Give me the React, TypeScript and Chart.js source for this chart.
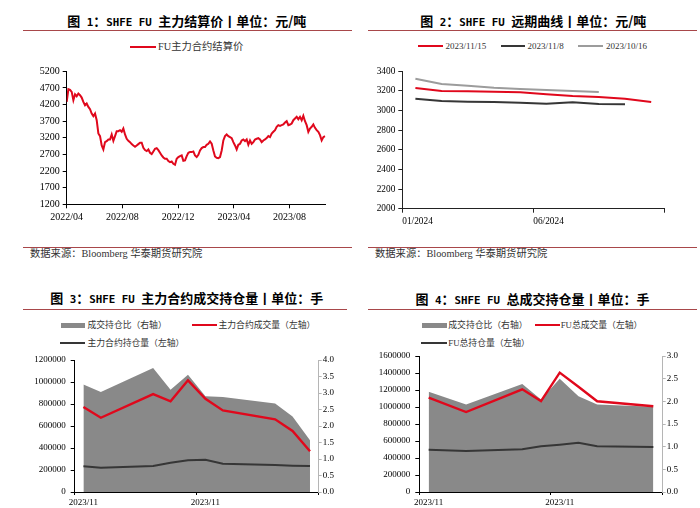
import React, { useEffect, useRef } from 'react';
import { Chart, registerables } from 'chart.js';
Chart.register(...registerables);

// ---------- Panel 1: FU main contract settlement price ----------
const settleSeriesName = 'FU主力合约结算价';
const settlePrices = [
  4280, 4660, 4640, 4580, 4330, 4510, 4450, 4530, 4480, 4410, 4280, 4180, 4230, 4130, 4060, 3930,
  3850, 3930, 3730, 3330, 3250, 2970, 2850, 3070, 3100, 3150, 3150, 3300, 3110, 3250, 3400, 3400,
  3430, 3380, 3480, 3300, 3170, 3110, 3070, 3010, 2970, 2930, 2970, 3010, 3050, 3050, 2900, 2830,
  2800, 2850, 2750, 2710, 2790, 2870, 2890, 2830, 2750, 2670, 2610, 2570, 2570, 2500, 2470, 2490,
  2420, 2390, 2570, 2620, 2650, 2670, 2510, 2520, 2650, 2750, 2770, 2770, 2790, 2670,
  2620, 2690, 2820, 2890, 2920, 2920, 2990, 3020, 3090, 3020, 2820, 2640, 2600, 2590, 2620, 2820,
  3120, 3250, 3300, 3250, 3220, 3190, 3070, 2970, 2850, 2990, 3020, 3120, 3150, 3100, 3150, 2990,
  3120, 3020, 3070, 3150, 3170, 3190, 3150, 3070, 3120, 3150, 3190, 3250, 3220, 3330, 3380, 3430,
  3530, 3580, 3560, 3580, 3600, 3660, 3700, 3580, 3600, 3630, 3730, 3780, 3830, 3760, 3830, 3730,
  3860, 3700, 3580, 3380, 3480, 3530, 3600, 3500, 3430, 3380, 3280, 3120, 3220, 3250,
];
const settleLastMonth = 18.55; // months after 2022/04
const settleAxisMax = 18.6;
const settleTickMonths = [0, 4, 8, 12, 16];
const settleTickLabels = ['2022/04', '2022/08', '2022/12', '2023/04', '2023/08'];

// ---------- Panel 2: forward curve ----------
const curveNames = ['2023/11/15', '2023/11/8', '2023/10/16'];
const curveMonths = [0.5, 1.5, 2.5, 3.5, 4.5, 5.5, 6.5, 7.5, 8.5, 9.5]; // months after 01/2024
const curve1115 = [3230, 3199, 3196, 3192, 3186, 3166, 3148, 3138, 3121, 3087];
const curve1108 = [3121, 3097, 3090, 3087, 3080, 3070, 3084, 3067, 3064];
const curve1016 = [3325, 3271, 3253, 3233, 3220, 3209, 3199, 3189];
const curveTickMonths = [0, 5, 10];
const curveTickLabels = ['01/2024', '06/2024', ''];

// ---------- Panel 3: main contract volume / open interest ----------
const mainNames = ['成交持仓比（右轴）', '主力合约成交量（左轴）', '主力合约持仓量（左轴）'];
const mainDays = [2, 3, 6, 7, 8, 9, 10, 13, 14, 15]; // November 2023
const mainRatio = [3.26, 3.03, 3.76, 3.1, 3.55, 2.9, 2.88, 2.68, 2.29, 1.57];
const mainVolume = [772000, 675000, 890000, 824000, 1015000, 848000, 742000, 661000, 555000, 370000];
const mainOI = [234000, 221000, 236000, 266000, 288000, 294000, 257000, 245000, 239000, 236000];
const mainTickDays = [1.5, 8.5, 15.5];
const mainTickLabels = ['2023/11', '2023/11', ''];

// ---------- Panel 4: total volume / open interest ----------
const totalNames = ['成交持仓比（右轴）', 'FU总成交量（左轴）', 'FU总持仓量（左轴）'];
const totalDays = [1, 3, 6, 7, 8, 9, 10, 13]; // November 2023
const totalRatio = [2.21, 1.93, 2.38, 2.04, 2.5, 2.11, 1.93, 1.88];
const totalVolume = [1109000, 941000, 1208000, 1070000, 1404000, 1239000, 1067000, 1008000];
const totalOI = [498000, 482000, 502000, 538000, 557000, 580000, 538000, 529000];
const totalTickDays = [0.5, 7.5, 13.5];
const totalTickLabels = ['2023/11', '2023/11', ''];

// ---------- styles ----------
const SERIF = '"Liberation Serif", "Noto Sans CJK SC", serif';
const CJK = '"Noto Sans CJK SC", sans-serif';
const MONO = '"DejaVu Sans Mono", monospace';
const RED = '#e0081c';
const DARK = '#363636';
const LIGHT = '#9c9c9c';
const AREA = '#898989';
const RULE = '#a8474a';

const plain = (v: any) => String(v);

function axis(size: number, extra: any = {}, tickLen = 4, borderColor = '#000') {
  return {
    border: { display: true, color: borderColor, width: 1 },
    grid: { display: true, drawOnChartArea: false, drawTicks: true, tickLength: tickLen, color: borderColor },
    ...extra,
    ticks: { font: { family: SERIF, size }, color: '#000', padding: 3, callback: plain, ...(extra.ticks || {}) },
  };
}

function fixTicks(values: number[]) {
  return (s: any) => {
    s.ticks = values.map((v) => ({ value: v }));
  };
}

function ChartBox({ left, top, width, height, build }: any) {
  const ref = useRef<HTMLCanvasElement>(null);
  useEffect(() => {
    const chart = new Chart(ref.current as HTMLCanvasElement, build());
    return () => chart.destroy();
  }, []);
  return (
    <canvas
      ref={ref}
      width={width}
      height={height}
      style={{ position: 'absolute', left, top, width, height }}
    />
  );
}

const basePlugins = { legend: { display: false }, tooltip: { enabled: false } };

function buildSettle(): any {
  const n = settlePrices.length;
  return {
    type: 'line',
    data: {
      datasets: [
        {
          label: settleSeriesName,
          data: settlePrices.map((v, i) => ({ x: (i * settleLastMonth) / (n - 1), y: v })),
          borderColor: RED,
          borderWidth: 2,
          pointRadius: 0,
          tension: 0,
        },
      ],
    },
    options: {
      responsive: false,
      animation: false,
      layout: { padding: { left: 20.7, right: 24.3, top: 71.3, bottom: 15.7 } },
      plugins: basePlugins,
      scales: {
        x: axis(10, {
          type: 'linear',
          min: 0,
          max: settleAxisMax,
          afterBuildTicks: fixTicks(settleTickMonths),
          afterFit: (s: any) => { s.height = 20; },
          ticks: { callback: (_v: any, i: number) => settleTickLabels[i], maxRotation: 0, autoSkip: false },
        }),
        y: axis(10, {
          min: 1200,
          max: 5200,
          afterFit: (s: any) => { s.width = 46; },
          ticks: { stepSize: 500 },
        }),
      },
    },
  };
}

function buildCurve(): any {
  const mk = (label: string, vals: number[], color: string) => ({
    label,
    data: vals.map((v, i) => ({ x: curveMonths[i], y: v })),
    borderColor: color,
    borderWidth: 2,
    pointRadius: 0,
    tension: 0,
  });
  return {
    type: 'line',
    data: {
      datasets: [
        mk(curveNames[0], curve1115, RED),
        mk(curveNames[1], curve1108, DARK),
        mk(curveNames[2], curve1016, LIGHT),
      ],
    },
    options: {
      responsive: false,
      animation: false,
      layout: { padding: { left: 12.3, right: 35.7, top: 71.3, bottom: 11.3 } },
      plugins: basePlugins,
      scales: {
        x: axis(9.3, {
          type: 'linear',
          min: 0,
          max: 10,
          afterBuildTicks: fixTicks(curveTickMonths),
          afterFit: (s: any) => { s.height = 20; },
          ticks: { callback: (_v: any, i: number) => curveTickLabels[i], align: 'start', maxRotation: 0, autoSkip: false },
        }, 4, '#222'),
        y: axis(9.3, {
          min: 2000,
          max: 3400,
          afterFit: (s: any) => { s.width = 40; },
          ticks: { stepSize: 200 },
        }, 4, '#222'),
      },
    },
  };
}

function buildVolOI(
  names: string[], days: number[], ratio: number[], vol: number[], oi: number[],
  tickDays: number[], tickLabels: string[], leftMax: number, rightMax: number,
  pad: any, labelOffset: number
): any {
  return {
    type: 'line',
    data: {
      datasets: [
        {
          label: names[0],
          data: ratio.map((v, i) => ({ x: days[i], y: v })),
          yAxisID: 'y1',
          borderWidth: 0,
          borderColor: AREA,
          backgroundColor: AREA,
          fill: 'origin',
          pointRadius: 0,
          tension: 0,
          order: 3,
        },
        {
          label: names[1],
          data: vol.map((v, i) => ({ x: days[i], y: v })),
          yAxisID: 'y',
          borderColor: RED,
          borderWidth: 2.4,
          pointRadius: 0,
          tension: 0,
          order: 1,
        },
        {
          label: names[2],
          data: oi.map((v, i) => ({ x: days[i], y: v })),
          yAxisID: 'y',
          borderColor: DARK,
          borderWidth: 2,
          pointRadius: 0,
          tension: 0,
          order: 2,
        },
      ],
    },
    options: {
      responsive: false,
      animation: false,
      layout: { padding: pad },
      plugins: basePlugins,
      scales: {
        x: axis(9, {
          type: 'linear',
          min: tickDays[0],
          max: tickDays[tickDays.length - 1],
          afterBuildTicks: fixTicks(tickDays),
          afterFit: (s: any) => { s.height = 16; },
          ticks: { callback: (_v: any, i: number) => tickLabels[i], labelOffset, maxRotation: 0, autoSkip: false, padding: 2 },
        }, 3),
        y: axis(9, {
          position: 'left',
          min: 0,
          max: leftMax,
          afterFit: (s: any) => { s.width = 50; },
          ticks: { stepSize: 200000, padding: 5 },
        }, 4),
        y1: axis(9, {
          position: 'right',
          min: 0,
          max: rightMax,
          afterFit: (s: any) => { s.width = 25; },
          ticks: { stepSize: 0.5, callback: (v: any) => Number(v).toFixed(1), padding: 1 },
        }, 3, '#b5b5b5'),
      },
    },
  };
}

function Title({ cx, cy, parts }: { cx: number; cy: number; parts: [string, boolean][] }) {
  return (
    <div
      style={{
        position: 'absolute', left: cx, top: cy, transform: 'translate(-50%, -50%)',
        whiteSpace: 'pre', fontWeight: 700, color: '#000', lineHeight: '16px',
      }}
    >
      {parts.map(([t, latin], i) => (
        <span key={i} style={latin ? { fontFamily: MONO, fontSize: 10.8 } : { fontFamily: CJK, fontSize: 13 }}>
          {t}
        </span>
      ))}
    </div>
  );
}

function Rule({ x1, x2, y }: { x1: number; x2: number; y: number }) {
  return <div style={{ position: 'absolute', left: x1, top: y, width: x2 - x1, height: 1, background: RULE }} />;
}

function Text({ x, cy, size, children }: any) {
  return (
    <div
      style={{
        position: 'absolute', left: x, top: cy, transform: 'translateY(-50%)', whiteSpace: 'nowrap',
        fontFamily: SERIF, fontSize: size, color: '#333', lineHeight: 1.2,
      }}
    >
      {children}
    </div>
  );
}

function Swatch({ x, cy, w, h, color }: any) {
  return <div style={{ position: 'absolute', left: x, top: cy - h / 2, width: w, height: h, background: color }} />;
}

const SP = '\u2002';

export default function App() {
  return (
    <div style={{ position: 'absolute', left: 0, top: 0, width: 700, height: 508, overflow: 'hidden', background: '#fff' }}>
      {/* Panel 1 */}
      <Title cx={186.7} cy={21.5} parts={[['图' + SP, false], ['1', true], ['：', false], ['SHFE FU ', true], ['主力结算价丨单位：元/吨', false]]} />
      <Rule x1={23} x2={352} y={30} />
      <Swatch x={130} cy={47} w={26} h={2.5} color={RED} />
      <Text x={158} cy={47} size={10.3}>{settleSeriesName}</Text>
      <ChartBox left={0} top={0} width={350} height={240} build={buildSettle} />
      <Rule x1={23} x2={352} y={247} />
      <Text x={30} cy={253.5} size={10.3}>数据来源：Bloomberg 华泰期货研究院</Text>

      {/* Panel 2 */}
      <Title cx={533.3} cy={21.5} parts={[['图' + SP, false], ['2', true], ['：', false], ['SHFE FU ', true], ['远期曲线丨单位：元/吨', false]]} />
      <Rule x1={368} x2={697} y={30} />
      <Swatch x={418.3} cy={46} w={24.4} h={2.5} color={RED} />
      <Text x={445.5} cy={46} size={9}>{curveNames[0]}</Text>
      <Swatch x={500.7} cy={46} w={24.3} h={2.5} color={DARK} />
      <Text x={527.5} cy={46} size={9}>{curveNames[1]}</Text>
      <Swatch x={578.3} cy={46} w={25} h={2.5} color={LIGHT} />
      <Text x={606} cy={46} size={9}>{curveNames[2]}</Text>
      <ChartBox left={350} top={0} width={350} height={240} build={buildCurve} />
      <Rule x1={368} x2={697} y={247} />
      <Text x={375} cy={253.5} size={10.3}>数据来源：Bloomberg 华泰期货研究院</Text>

      {/* Panel 3 */}
      <Title cx={186.7} cy={299.3} parts={[['图' + SP, false], ['3', true], ['：', false], ['SHFE FU ', true], ['主力合约成交持仓量丨单位：手', false]]} />
      <Rule x1={23} x2={347} y={309} />
      <Swatch x={61} cy={325} w={24} h={5} color={AREA} />
      <Text x={87.5} cy={325} size={8.8}>{mainNames[0]}</Text>
      <Swatch x={191.7} cy={325} w={25} h={2.5} color={RED} />
      <Text x={218.5} cy={325} size={8.8}>{mainNames[1]}</Text>
      <Swatch x={60} cy={342.7} w={25} h={2} color={DARK} />
      <Text x={87.5} cy={342.7} size={8.8}>{mainNames[2]}</Text>
      <ChartBox
        left={0}
        top={260}
        width={350}
        height={248}
        build={() =>
          buildVolOI(mainNames, mainDays, mainRatio, mainVolume, mainOI, mainTickDays, mainTickLabels,
            1200000, 4, { left: 24.7, right: 6.3, top: 100, bottom: 0 }, 8.7)
        }
      />

      {/* Panel 4 */}
      <Title cx={532.5} cy={300} parts={[['图' + SP, false], ['4', true], ['：', false], ['SHFE FU ', true], ['总成交持仓量丨单位：手', false]]} />
      <Rule x1={368} x2={697} y={309} />
      <Swatch x={421.7} cy={325} w={25} h={5} color={AREA} />
      <Text x={448.3} cy={325} size={8.8}>{totalNames[0]}</Text>
      <Swatch x={535} cy={325} w={25} h={2.5} color={RED} />
      <Text x={560.7} cy={325} size={8.8}>{totalNames[1]}</Text>
      <Swatch x={421} cy={343.3} w={25.7} h={2} color={DARK} />
      <Text x={448.3} cy={343.3} size={8.8}>{totalNames[2]}</Text>
      <ChartBox
        left={350}
        top={260}
        width={350}
        height={248}
        build={() =>
          buildVolOI(totalNames, totalDays, totalRatio, totalVolume, totalOI, totalTickDays, totalTickLabels,
            1600000, 3, { left: 19.3, right: 12.3, top: 96, bottom: 0 }, 9.4)
        }
      />
    </div>
  );
}
